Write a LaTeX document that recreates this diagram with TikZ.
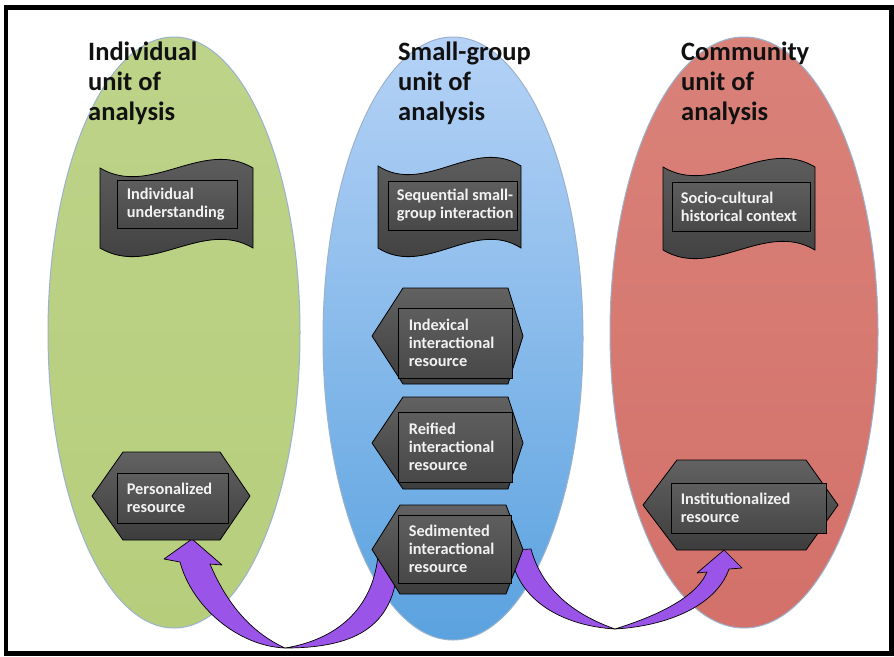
\documentclass[tikz,border=0pt]{standalone}
\usepackage{fontspec}
\setmainfont{Carlito}
\usetikzlibrary{shapes.geometric}
\definecolor{greenFill}{HTML}{B6CE7C}
\definecolor{greenTop}{HTML}{BDD389}
\definecolor{blueTop}{HTML}{B5D2F6}
\definecolor{blueBot}{HTML}{5AA2DF}
\definecolor{redTop}{HTML}{D98279}
\definecolor{redFill}{HTML}{D3716A}
\definecolor{ellEdge}{HTML}{9AB2CE}
\definecolor{shapeTop}{HTML}{626262}
\definecolor{shapeBot}{HTML}{3D3D3D}
\definecolor{innerTop}{HTML}{5E5E5E}
\definecolor{innerBot}{HTML}{484848}
\definecolor{boxText}{HTML}{F2F2F2}
\definecolor{titleCol}{HTML}{111111}
\definecolor{arrowPurple}{HTML}{9A55E8}
\newcommand\tapeshape[4]{%
  \path[darkshape] (#1,#2) .. controls ({#1+0.33*(#3-#1)},{#2+30}) and ({#1+0.67*(#3-#1)},{#2-30}) .. (#3,#2)
    -- (#3,#4) .. controls ({#3-0.33*(#3-#1)},{#4-30}) and ({#3-0.67*(#3-#1)},{#4+30}) .. (#1,#4) -- cycle;}
\newcommand\hexshape[6]{%
  \path[darkshape] (#1,{(#5+#6)/2}) -- (#2,#5) -- (#3,#5) -- (#4,{(#5+#6)/2}) -- (#3,#6) -- (#2,#6) -- cycle;}
\begin{document}
\begin{tikzpicture}[x=1pt,y=-1pt,
  ellbase/.style={ellipse, draw=ellEdge, line width=1pt, inner sep=0pt},
  title/.style={font=\fontsize{26.5}{30}\selectfont\bfseries, text=titleCol, align=left, inner sep=0pt, anchor=north west},
  darkshape/.style={draw=black, line width=0.8pt, top color=shapeTop, bottom color=shapeBot},
  innerbox/.style={draw=black, line width=0.8pt, top color=innerTop, bottom color=innerBot, inner sep=0pt},
  boxtxt/.style={font=\fontsize{16.3}{18}\selectfont\bfseries, text=boxText, align=left, inner sep=0pt, anchor=west},
  arrowstyle/.style={fill=arrowPurple, draw=black, line width=0.7pt, line join=round}]
\useasboundingbox (0,0) rectangle (894,656);
\fill[white] (0,0) rectangle (894,656);
% ellipses
\node[ellbase, top color=greenTop, bottom color=greenFill, minimum width=252pt, minimum height=591pt] (indiv) at (174,332.5) {};
\node[ellbase, top color=blueTop, bottom color=blueBot, minimum width=260pt, minimum height=603pt] (group) at (453,338.5) {};
\node[ellbase, top color=redTop, bottom color=redFill, minimum width=268pt, minimum height=591pt] (comm) at (744,332.5) {};
% titles
\node[title] (t1) at (88,42) {Individual\\unit of\\analysis};
\node[title] (t2) at (398,42) {Small-group\\unit of\\analysis};
\node[title] (t3) at (681,42) {Community\\unit of\\analysis};
% arrows (behind shapes)
\path[arrowstyle] (192,539) -- (222,565) -- (210,564) .. controls (226,602) and (250,632) .. (285,648)
   .. controls (238,646) and (192,607) .. (180,562) -- (164,559) -- cycle;
\path[arrowstyle] (285,648) .. controls (358,648) and (397,625) .. (398,558) -- (378,555)
   .. controls (373,610) and (335,640) .. (285,648) -- cycle;
\path[arrowstyle] (510,550) .. controls (516,602) and (565,626) .. (615,629)
   .. controls (575,615) and (542,590) .. (531,549) -- cycle;
\path[arrowstyle] (615,629) .. controls (667,626) and (716,606) .. (729,569) -- (742,568) -- (724,550)
   -- (697,573) -- (707,572) .. controls (695,600) and (650,618) .. (615,629) -- cycle;
% document shapes
\tapeshape{100}{168}{253}{248}
\tapeshape{378}{166}{521}{248}
\tapeshape{663}{167}{815}{250}
% hexagons
\hexshape{92}{123}{220}{250}{452}{540}
\hexshape{372}{403}{508}{523}{288}{384}
\hexshape{372}{403}{508}{523}{397}{489}
\hexshape{372}{400}{506}{523}{505}{594}
\hexshape{643}{677}{806}{838}{460}{550}
% inner boxes
\node[innerbox, minimum width=120pt, minimum height=48pt] (iu) at (177,204) {};
\node[innerbox, minimum width=129pt, minimum height=49pt] (sg) at (452.5,205.5) {};
\node[innerbox, minimum width=138pt, minimum height=49pt] (sc) at (741,206.5) {};
\node[innerbox, minimum width=111pt, minimum height=50pt] (pr) at (172.5,498) {};
\node[innerbox, minimum width=114pt, minimum height=70pt] (ix) at (455,343) {};
\node[innerbox, minimum width=114pt, minimum height=70pt] (rf) at (455,447) {};
\node[innerbox, minimum width=113pt, minimum height=68pt] (sd) at (454.5,549) {};
\node[innerbox, minimum width=155pt, minimum height=50pt] (ir) at (748.5,508) {};
% texts
\node[boxtxt] at ([xshift=10pt]iu.west) {Individual\\understanding};
\node[boxtxt] at ([xshift=9pt]sg.west) {Sequential small-\\group interaction};
\node[boxtxt] at ([xshift=9pt]sc.west) {Socio-cultural\\historical context};
\node[boxtxt] at ([xshift=10pt]pr.west) {Personalized\\resource};
\node[boxtxt] at ([xshift=11pt]ix.west) {Indexical\\interactional\\resource};
\node[boxtxt] at ([xshift=11pt]rf.west) {Reified\\interactional\\resource};
\node[boxtxt] at ([xshift=11pt]sd.west) {Sedimented\\interactional\\resource};
\node[boxtxt] at ([xshift=10pt]ir.west) {Institutionalized\\resource};
% frame
\draw[line width=4.5pt] (6,7.5) rectangle (891.5,653.5);
\end{tikzpicture}
\end{document}
